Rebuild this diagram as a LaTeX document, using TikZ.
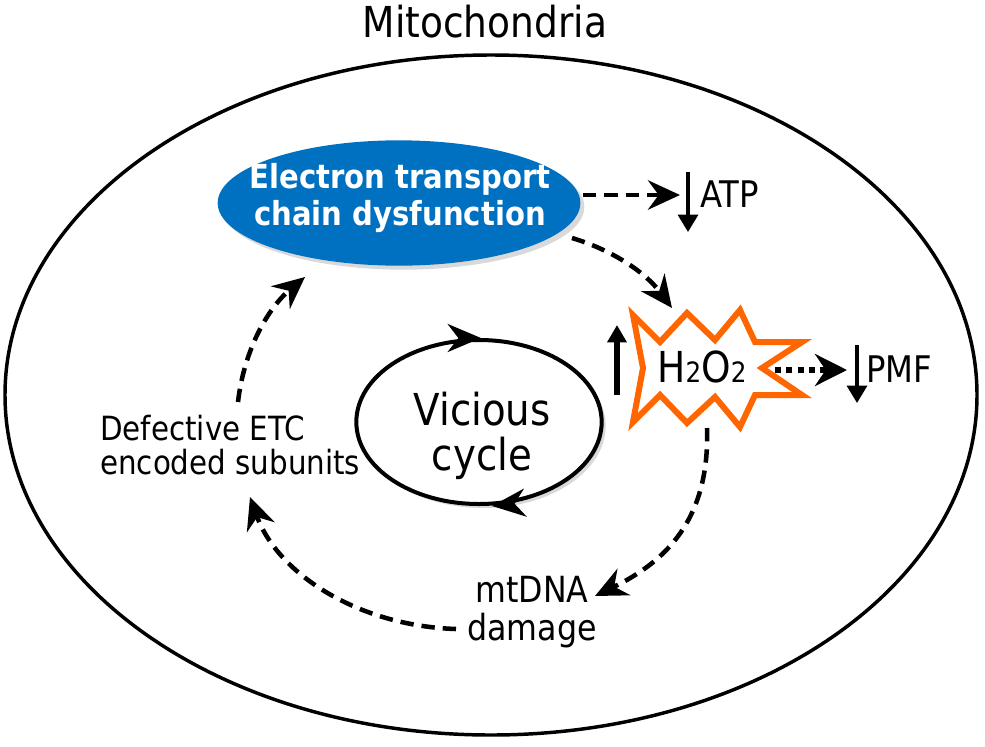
\documentclass[tikz,border=0pt]{standalone}
\usepackage{fontspec}
\setmainfont{DejaVu Sans}[FakeStretch=0.88]
\usetikzlibrary{arrows.meta,shadows,shapes.geometric,calc}
\definecolor{etcblue}{RGB}{0,112,192}
\definecolor{burst}{RGB}{255,102,0}
\begin{document}
\begin{tikzpicture}[x=0.75pt,y=-0.75pt,
  dasharr/.style={line width=3.4pt, dash pattern=on 10pt off 6pt,
    -{Stealth[length=24pt,width=22pt,inset=8pt]}},
  dotarr/.style={line width=4pt, dash pattern=on 4.5pt off 4pt,
    -{Stealth[length=24pt,width=24pt,inset=8pt]}},
  cyctip/.style={line width=3pt, -{Stealth[length=25pt,width=21pt,inset=8pt]}},
  updown/.style={line width=2.4pt, -{Triangle[length=13pt,width=15pt]}},
  lbl/.style={inner sep=0pt, align=center}]
\useasboundingbox (0,0) rectangle (985,746);
% title
\node[lbl, font=\fontsize{32}{34}\selectfont] (title) at (485,22) {Mitochondria};
% outer membrane
\node[draw, ellipse, line width=2.6pt, minimum width=729pt, minimum height=510pt, inner sep=0pt] (mito) at (491,395) {};
% ETC ellipse
\node[ellipse, fill=etcblue, minimum width=272pt, minimum height=94pt, inner sep=0pt,
  drop shadow={opacity=0.3, shadow xshift=3pt, shadow yshift=-3pt}] (etc) at (399,203) {};
\node[lbl, text=white, font=\bfseries\fontsize{24.8}{28}\selectfont] (etctext) at (400,198) {Electron transport\\chain dysfunction};
% ATP
\node[lbl, anchor=base west, font=\fontsize{27.5}{30}\selectfont] (atp) at (700,207) {ATP};
\coordinate (atptop) at (688,172);
\coordinate (atpbot) at (688,232);
\draw[updown] (atptop) -- (atpbot);
\coordinate (etcR) at (583,195);
\coordinate (atpL) at (680,195);
\draw[dasharr] (etcR) -- (atpL);
% vicious cycle
\node[draw, ellipse, line width=3pt, fill=white, minimum width=184pt, minimum height=123pt, inner sep=0pt,
  drop shadow={opacity=0.3, shadow xshift=3pt, shadow yshift=-3pt}] (vc) at (479,422) {};
\node[lbl, font=\fontsize{33}{34}\selectfont] (vctext) at (482,436) {Vicious\\cycle};
\draw[cyctip] ($(vc.north)+(-12,0)$) -- ($(vc.north)+(2,0)$);
\draw[cyctip] ($(vc.south)+(28,-1.5)$) -- ($(vc.south)+(13,0)$);
% H2O2 burst
\draw[burst, line width=4.5pt, fill=white, line join=miter]
  (633,315) -- (660,342) -- (687,313) -- (715,340) -- (740,310) -- (755,342) -- (802,342)
  -- (762,368) -- (802,395) -- (755,395) -- (740,427) -- (715,397) -- (687,423) -- (660,395)
  -- (633,422) -- (643,368) -- cycle;
\node[lbl, anchor=base, font=\fontsize{32}{34}\selectfont] (h2o2) at (702,382)
  {H{\fontsize{21}{22}\selectfont 2}O{\fontsize{21}{22}\selectfont 2}};
\coordinate (upbot) at (617,395);
\coordinate (uptop) at (617,325);
\draw[line width=3.8pt, -{Triangle[length=13pt,width=14pt]}] (upbot) -- (uptop);
% ETC -> H2O2
\coordinate (etcBR) at (572,238);
\coordinate (burstTL) at (672,308);
\draw[dasharr] (etcBR) .. controls (612,250) and (645,272) .. (burstTL);
% PMF
\node[lbl, anchor=base west, font=\fontsize{27.5}{30}\selectfont] (pmf) at (866,382) {PMF};
\coordinate (pmftop) at (857,345);
\coordinate (pmfbot) at (857,403);
\draw[updown] (pmftop) -- (pmfbot);
\coordinate (burstR) at (775,370);
\coordinate (pmfL) at (847,370);
\draw[dotarr] (burstR) -- (pmfL);
% mtDNA
\node[lbl, font=\fontsize{27}{29}\selectfont] (mtdna) at (532,612) {mtDNA\\damage};
\coordinate (burstB) at (707,428);
\coordinate (mtdnaR) at (595,596);
\draw[dasharr] (burstB) .. controls (710,520) and (665,562) .. (mtdnaR);
% defective
\node[inner sep=0pt, align=left, anchor=west, font=\fontsize{25}{26}\selectfont] (def) at (100,445) {Defective ETC\\encoded subunits};
\coordinate (mtdnaL) at (456,629);
\coordinate (defB) at (250,497);
\draw[dasharr] (mtdnaL) .. controls (360,626) and (278,575) .. (defB);
\coordinate (defT) at (238,402);
\coordinate (etcBL) at (305,277);
\draw[dasharr] (defT) .. controls (244,350) and (268,308) .. (etcBL);
\end{tikzpicture}
\end{document}
